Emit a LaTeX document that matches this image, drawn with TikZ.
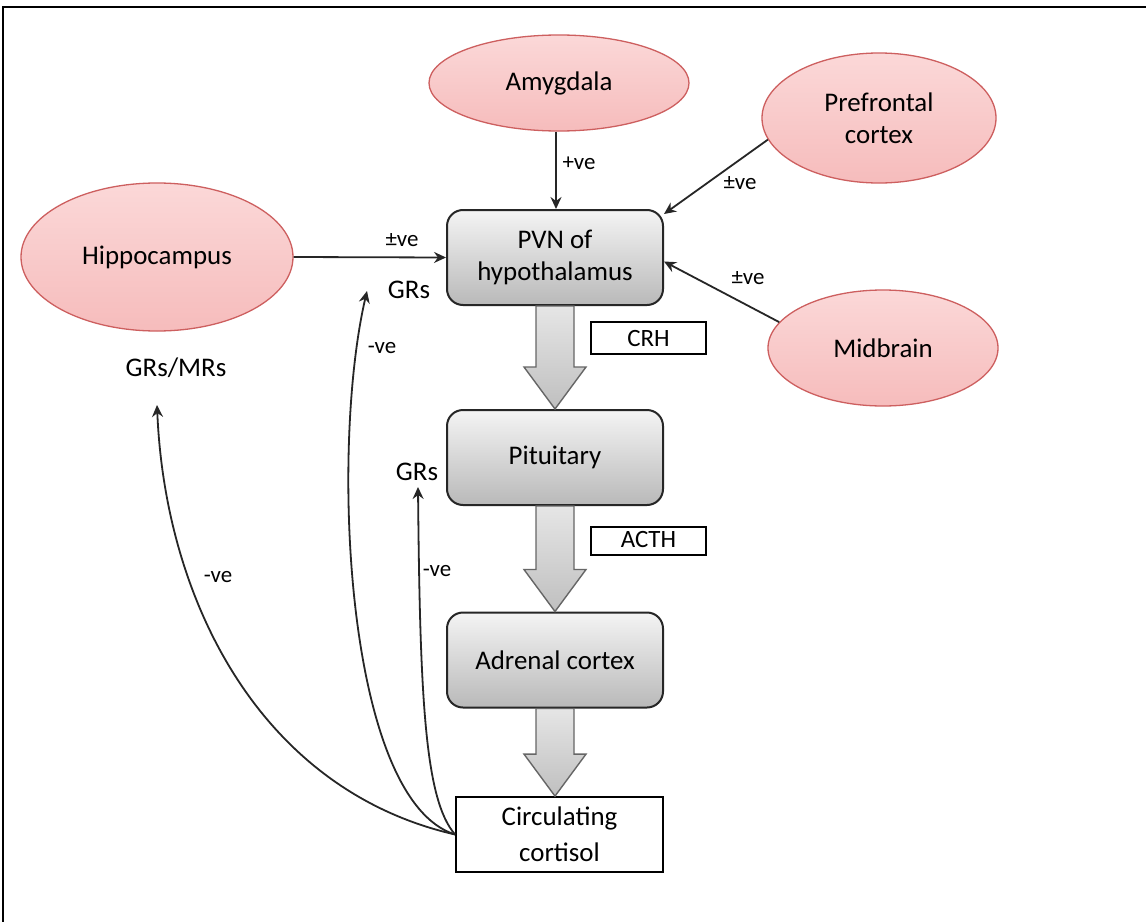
\documentclass[tikz,border=0pt]{standalone}
\usepackage{fontspec}
\setmainfont{Carlito}
\usetikzlibrary{shapes.geometric,arrows.meta,calc}
\definecolor{pinktop}{RGB}{251,216,216}
\definecolor{pinkbot}{RGB}{246,188,188}
\definecolor{pinkedge}{RGB}{205,95,95}
\definecolor{graytop}{RGB}{244,244,244}
\definecolor{graybot}{RGB}{185,185,185}
\tikzset{
  ell/.style={ellipse, draw=pinkedge, line width=1.3bp, top color=pinktop, bottom color=pinkbot, inner sep=0pt, align=center, font=\fontsize{27}{32}\selectfont},
  gbox/.style={rectangle, rounded corners=16bp, draw=black!85, line width=2bp, top color=graytop, bottom color=graybot, minimum width=216bp, minimum height=95bp, align=center, font=\fontsize{27}{32}\selectfont},
  wbox/.style={rectangle, draw=black, line width=1.8bp, fill=white, align=center, font=\fontsize{27}{36}\selectfont},
  lbox/.style={rectangle, draw=black, line width=1.6bp, fill=white, minimum width=115bp, font=\fontsize{25}{28}\selectfont, inner sep=0pt},
  lab/.style={font=\fontsize{23}{26}\selectfont, inner sep=0pt},
  glab/.style={font=\fontsize{27}{30}\selectfont, inner sep=0pt},
  arr/.style={line width=1.8bp, draw=black!85, -{Stealth[length=12bp,width=11bp,inset=4bp]}},
  blk/.style={draw=black!60, line width=1.4bp, top color=gray!20, bottom color=gray!50},
}
\begin{document}
\begin{tikzpicture}[x=1bp,y=-1bp]
\useasboundingbox (0,0) rectangle (1146,922);
\fill[white] (0,0) rectangle (1146,922);
\draw[line width=2.2bp] (3,922) -- (3,7) -- (1146,7);

% ellipses
\node[ell, minimum width=260bp, minimum height=96bp] (amy) at (559,83) {Amygdala};
\node[ell, minimum width=234bp, minimum height=130bp] (pfc) at (879,118) {Prefrontal\\cortex};
\node[ell, minimum width=272bp, minimum height=148bp] (hip) at (157,257) {Hippocampus};
\node[ell, minimum width=230bp, minimum height=116bp] (mid) at (883,348) {Midbrain};

% boxes
\node[gbox] (pvn) at (555,257.5) {PVN of\\hypothalamus};
\node[gbox] (pit) at (555,457.5) {Pituitary};
\node[gbox] (adr) at (555,660) {Adrenal cortex};
\node[wbox, minimum width=207bp, minimum height=75bp] (cort) at (559.5,834.5) {Circulating\\cortisol};

% block arrows
\foreach \a/\b in {pvn/pit, pit/adr, adr/cort}{
  \draw[blk] ($(\a.south)+(-19,0)$) -- ($(\a.south |- \b.north)+(-19,-42)$) -- ($(\a.south |- \b.north)+(-31,-42)$)
    -- (\a.south |- \b.north) -- ($(\a.south |- \b.north)+(31,-42)$) -- ($(\a.south |- \b.north)+(19,-42)$)
    -- ($(\a.south)+(19,0)$) -- cycle;
}
\node[lbox, minimum height=32bp] (crh) at (648.5,338) {CRH};
\node[lbox, minimum height=28bp] (acth) at (648.5,541) {\raisebox{3bp}{ACTH}};

% input arrows
\draw[arr] (amy.south -| 556,0) -- (556,0 |- pvn.north);
\draw[arr] (pfc.191) -- ($(pvn.north east)+(0,5)$);
\draw[arr] (mid.166) -- ($(pvn.east)+(0,4)$);
\draw[arr] (hip.east) -- (pvn.west);

\node[lab] (l1) at (579,163) {+ve};
\node[lab] (l2) at (740,183) {±ve};
\node[lab] (l3) at (748,278) {±ve};
\node[lab] (l4) at (402,240) {±ve};

% receptor labels
\node[glab] (g1) at (409,290) {GRs};
\node[glab] (g2) at (176,368) {GRs/MRs};
\node[glab] (g3) at (417,472) {GRs};

\coordinate (t1) at (157,405);
\coordinate (t2) at (367,291);
\coordinate (t3) at (418,487);

% feedback curves
\draw[arr] (cort.west) .. controls (260,790) and (165,600) .. (t1);
\draw[arr] (cort.west) .. controls (345,800) and (330,450) .. (t2);
\draw[arr] (cort.west) .. controls (425,800) and (420,700) .. (t3);

\node[lab] (n1) at (382,348) {-ve};
\node[lab] (n2) at (437,571) {-ve};
\node[lab] (n3) at (218,577) {-ve};
\end{tikzpicture}
\end{document}
